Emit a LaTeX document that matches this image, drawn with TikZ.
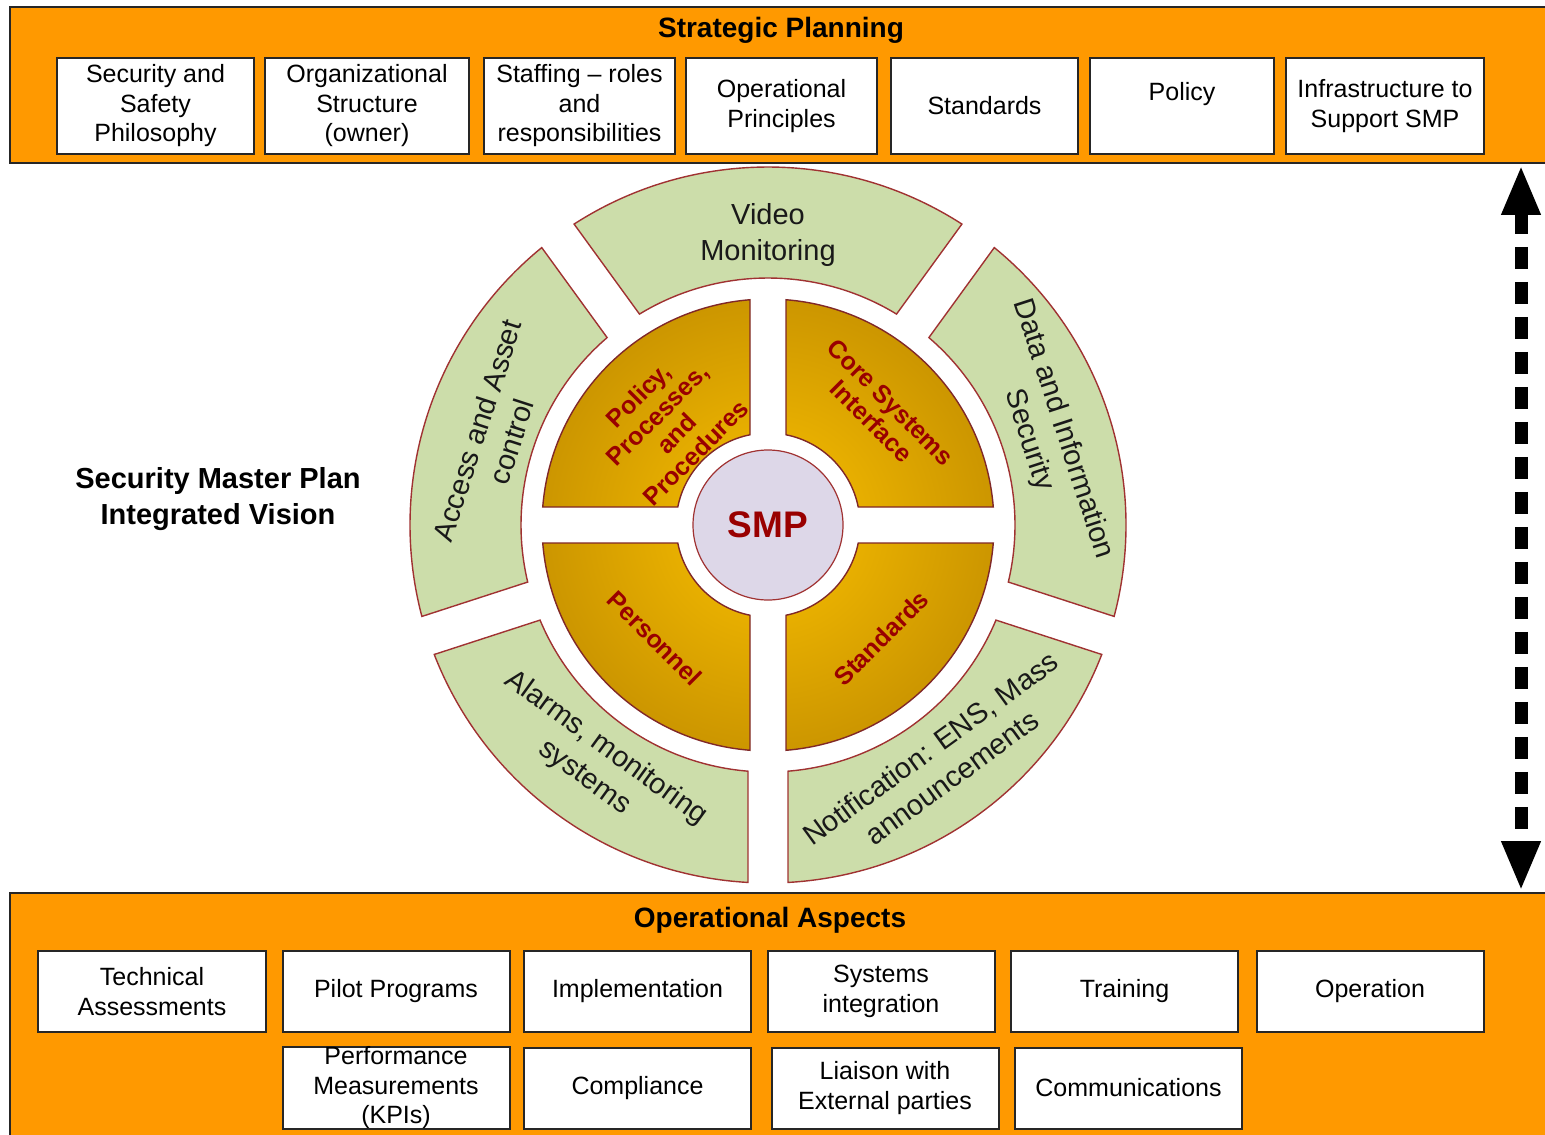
\documentclass[tikz,border=0pt]{standalone}
\usepackage{fontspec}
\setmainfont{Liberation Sans}
\usetikzlibrary{arrows.meta}
\usetikzlibrary{positioning}
\definecolor{bandorange}{RGB}{255,153,0}
\definecolor{ringgreen}{RGB}{204,221,170}
\definecolor{ringedge}{RGB}{160,50,50}
\definecolor{goldlight}{RGB}{250,192,0}
\definecolor{golddark}{RGB}{204,150,0}
\definecolor{smpfill}{RGB}{221,215,232}
\definecolor{smpred}{RGB}{153,0,0}
\tikzset{band/.style = {draw=black!85, line width=1pt, fill=bandorange}}
\tikzset{bandtitle/.style = {font=\fontsize{14}{17}\selectfont\bfseries}}
\tikzset{planbox/.style = {draw=black!85, line width=1pt, fill=white, align=center, inner sep=0,
    minimum height=48pt, font=\fontsize{12.5}{14.75}\selectfont}}
\tikzset{opbox/.style = {planbox, minimum width=113.5pt, minimum height=40.5pt}}
\tikzset{ringpart/.style = {draw=ringedge, line width=0.7pt, fill=ringgreen}}
\tikzset{corepart/.style = {draw=ringedge!80!black, line width=0.7pt}}
\tikzset{ringtext/.style = {align=center, font=\fontsize{14.5}{18}\selectfont, text=black!90}}
\tikzset{coretext/.style = {align=center, font=\fontsize{12.5}{13.5}\selectfont\bfseries, text=smpred}}
\tikzset{updown/.style = {line width=6.5pt, dash pattern=on 11pt off 6.5pt,
    {Triangle[width=18pt,length=25pt]}-{Triangle[width=18pt,length=25pt]}}}
% annular piece between two gap bands: from, to, inner r, outer r, half gap
\newcommand{\ringsector}[5]{%
  ({#1+asin(#5/#4)}:#4) arc[start angle={#1+asin(#5/#4)}, end angle={#2-asin(#5/#4)}, radius=#4]
  -- ({#2-asin(#5/#3)}:#3) arc[start angle={#2-asin(#5/#3)}, end angle={#1+asin(#5/#3)}, radius=#3] -- cycle}

\begin{document}
\begin{tikzpicture}[x=0.5pt, y=0.5pt]
    \useasboundingbox (0,0) rectangle (1545,-1134);

    % strategic planning
    \draw [band] (10,-7) rectangle (1560,-163);
    \node [bandtitle] (stratitle) at (781,-30) {Strategic Planning};
    \node [planbox, minimum width=98.5pt] (philo) at (155.5,-106) {Security and\\Safety\\Philosophy};
    \node [planbox, minimum width=102pt] (orgstruct) at (367,-106) {Organizational\\Structure\\(owner)};
    \node [planbox, minimum width=95.5pt] (staffing) at (579.5,-106) {Staffing – roles\\and\\responsibilities};
    \node [planbox, minimum width=95.5pt] (opprinc) at (781.5,-106) {Operational\\Principles};
    \node [planbox, minimum width=93.5pt] (stds) at (984.5,-106) {Standards};
    \node [planbox, minimum width=92pt] (policy) at (1182,-106) {Policy\\~};
    \node [planbox, minimum width=99pt] (infra) at (1385,-106) {Infrastructure to\\Support SMP};

    % operational aspects
    \draw [band] (10,-893) rectangle (1560,-1150);
    \node [bandtitle] (optitle) at (770,-920) {Operational Aspects};
    \node [opbox, minimum width=114pt] (techass) at (152,-991.5) {Technical\\Assessments};
    \node [opbox] (pilot) at (396,-991.5) {Pilot Programs};
    \node [opbox] (implem) at (637.5,-991.5) {Implementation};
    \node [opbox] (sysint) at (881,-991.5) {Systems\\integration};
    \node [opbox] (training) at (1124.5,-991.5) {Training};
    \node [opbox] (operation) at (1370,-991.5) {Operation};
    \node [opbox] (kpi) at (396,-1088) {Performance\\Measurements\\(KPIs)};
    \node [opbox] (compliance) at (637.5,-1088) {Compliance};
    \node [opbox] (liaison) at (885,-1088) {Liaison with\\External parties};
    \node [opbox] (comms) at (1128.5,-1088) {Communications};

    \node [font=\fontsize{14.5}{18}\selectfont\bfseries, align=center] (vision) at (218,-499)
      {Security Master Plan\\Integrated Vision};

    % the wheel
    \begin{scope}[shift={(768,-525)}]
      \draw [ringpart] \ringsector{54}{126}{247}{358}{20};
      \draw [ringpart] \ringsector{126}{198}{247}{358}{20};
      \draw [ringpart] \ringsector{198}{270}{247}{358}{20};
      \draw [ringpart] \ringsector{270}{342}{247}{358}{20};
      \draw [ringpart] \ringsector{-18}{54}{247}{358}{20};

      \begin{scope}
        \clip \ringsector{0}{90}{92}{226}{18} \ringsector{90}{180}{92}{226}{18}
              \ringsector{180}{270}{92}{226}{18} \ringsector{270}{360}{92}{226}{18};
        \shade [inner color=goldlight, outer color=golddark] (0,0) circle [radius=226];
      \end{scope}
      \draw [corepart] \ringsector{0}{90}{92}{226}{18};
      \draw [corepart] \ringsector{90}{180}{92}{226}{18};
      \draw [corepart] \ringsector{180}{270}{92}{226}{18};
      \draw [corepart] \ringsector{270}{360}{92}{226}{18};

      \node [circle, draw=ringedge, line width=0.6pt, fill=smpfill, minimum size=75pt, text=smpred,
        font=\fontsize{18.5}{20}\selectfont\bfseries] (smp) at (0,0) {SMP};

      \node [ringtext] (video) at (90:290) {Video\\Monitoring};
      \node [ringtext, rotate=72] (access) at (162:288) {Access and Asset\\control};
      \node [ringtext, rotate=-72] (datasec) at (18:292) {Data and Information\\Security};
      \node [ringtext, rotate=-36] (alarms) at (234:294) {Alarms, monitoring\\systems};
      \node [ringtext, rotate=36] (notify) at (306:294) {Notification: ENS, Mass\\announcements};

      \node [coretext, rotate=45] (procs) at (135:143) {Policy,\\Processes,\\and\\Procedures};
      \node [coretext, rotate=-45] (coresys) at (45:160) {Core Systems\\Interface};
      \node [coretext, rotate=-45] (personnel) at (225:160) {Personnel};
      \node [coretext, rotate=45] (stdcore) at (315:160) {Standards};
    \end{scope}

    % link between planning and operations
    \coordinate (arrtop) at (1521,-165);
    \coordinate (arrbot) at (1521,-891);
    \draw [updown] (arrtop) -- (arrbot);
\end{tikzpicture}
\end{document}
